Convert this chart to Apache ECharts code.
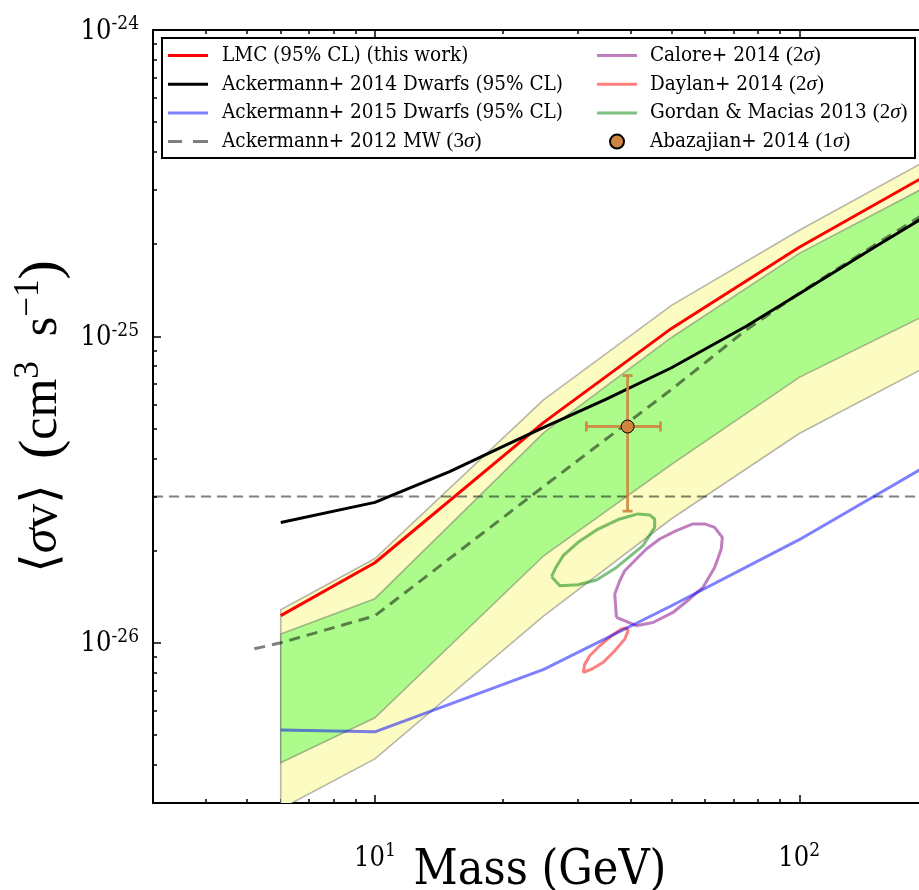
<!DOCTYPE html>
<html><head><meta charset="utf-8">
<script src="https://cdn.jsdelivr.net/npm/echarts@6/dist/echarts.min.js"></script>
<style>html,body{margin:0;padding:0;background:#fff}#c{width:919px;height:890px}</style>
</head><body><div id="c"></div>
<script>
// ---------------- data (mass in GeV, <sigma v> in cm^3 s^-1) ----------------
const bandMass    = [6, 10, 25, 50, 100, 200];
const lmcLimit    = [1.226e-26, 1.825e-26, 5.24e-26, 1.062e-25, 1.954e-25, 3.36e-25];
const band95Upper = [1.282e-26, 1.884e-26, 6.22e-26, 1.262e-25, 2.22e-25, 3.76e-25];
const band95Lower = [2.87e-27, 4.18e-27, 1.225e-26, 2.54e-26, 4.82e-26, 7.98e-26];
const band68Upper = [1.069e-26, 1.393e-26, 4.85e-26, 9.92e-26, 1.866e-25, 3.09e-25];
const band68Lower = [4.06e-27, 5.69e-27, 1.923e-26, 3.82e-26, 7.35e-26, 1.18e-25];

const dwarfs2014Mass  = [6, 10, 15, 20, 25, 35, 50, 75, 100, 150, 200];
const dwarfs2014Limit = [2.47e-26, 2.873e-26, 3.62e-26, 4.37e-26, 5.05e-26, 6.23e-26, 7.9e-26, 1.079e-25, 1.378e-25, 1.95e-25, 2.48e-25];

const dwarfs2015Mass  = [6, 10, 25, 50, 100, 200];
const dwarfs2015Limit = [5.19e-27, 5.12e-27, 8.19e-27, 1.321e-26, 2.17e-26, 3.79e-26];

const mw2012Mass  = [5.2, 6, 10, 25, 50, 75, 100, 150, 200];
const mw2012Limit = [9.56e-27, 1.0e-26, 1.225e-26, 3.24e-26, 6.71e-26, 1.05e-25, 1.384e-25, 1.98e-25, 2.54e-25];

const thermalMass = [3, 200];
const thermalRelic = 3e-26;

const caloreMass = [37.09, 41.32, 45.21, 50.40, 55.16, 59.29, 63.17, 65.51, 65.87, 63.17, 59.84, 56.16, 51.33, 46.89, 43.63, 41.32, 38.79, 37.76, 36.75, 36.94, 37.09];
const caloreSv   = [1.21e-26, 1.137e-26, 1.165e-26, 1.256e-26, 1.39e-26, 1.516e-26, 1.762e-26, 2.024e-26, 2.208e-26, 2.381e-26, 2.443e-26, 2.443e-26, 2.323e-26, 2.182e-26, 2.024e-26, 1.877e-26, 1.719e-26, 1.594e-26, 1.443e-26, 1.304e-26, 1.21e-26];

const daylanMass = [30.95, 32.39, 34.48, 36.75, 38.79, 39.50, 39.15, 38.10, 36.10, 33.88, 32.09, 31.23, 30.95];
const daylanSv   = [7.99e-27, 8.2e-27, 8.62e-27, 9.42e-27, 1.028e-26, 1.094e-26, 1.117e-26, 1.109e-26, 1.054e-26, 9.78e-27, 9.07e-27, 8.52e-27, 7.99e-27];

const gordanMass = [26.08, 27.28, 30.12, 33.28, 37.09, 42.83, 45.63, 45.63, 44.41, 41.69, 37.76, 33.28, 30.12, 27.77, 26.70, 26.08];
const gordanSv   = [1.643e-26, 1.536e-26, 1.547e-26, 1.603e-26, 1.762e-26, 2.075e-26, 2.381e-26, 2.536e-26, 2.614e-26, 2.634e-26, 2.536e-26, 2.335e-26, 2.127e-26, 1.924e-26, 1.762e-26, 1.643e-26];

const abazajianMass = [39.4], abazajianMassLo = [31.5], abazajianMassHi = [47.1];
const abazajianSv   = [5.08e-26], abazajianSvLo = [2.69e-26], abazajianSvHi = [7.45e-26];

// axis ticks
const xRange = [3, 200];
const yRange = [3e-27, 1e-24];
const xMajorExp = [1, 2];
const xMinorTicks = [4, 5, 6, 7, 8, 9, 20, 30, 40, 50, 60, 70, 80, 90];
const yMajorExp = [-26, -25, -24];
const yMinorTicks = [4e-27, 5e-27, 6e-27, 7e-27, 8e-27, 9e-27,
  2e-26, 3e-26, 4e-26, 5e-26, 6e-26, 7e-26, 8e-26, 9e-26,
  2e-25, 3e-25, 4e-25, 5e-25, 6e-25, 7e-25, 8e-25, 9e-25];

const N = {
  lmc: 'LMC (95% CL) (this work)',
  d14: 'Ackermann+ 2014 Dwarfs (95% CL)',
  d15: 'Ackermann+ 2015 Dwarfs (95% CL)',
  mw: 'Ackermann+ 2012 MW (3σ)',
  cal: 'Calore+ 2014 (2σ)',
  day: 'Daylan+ 2014 (2σ)',
  gor: 'Gordan & Macias 2013 (2σ)',
  aba: 'Abazajian+ 2014 (1σ)'
};

// ---------------- chart ----------------
const L = Math.log10;
const FONT = "'DejaVu Serif Condensed', 'DejaVu Serif', serif";
const MATH = "'Liberation Serif', 'DejaVu Serif', serif";
const pts = (xs, ys) => xs.map((x, i) => [L(x), L(ys[i])]);

const tickRich = {
  b: { fontFamily: FONT, fontSize: 27, color: '#000', lineHeight: 30, verticalAlign: 'bottom' },
  s: { fontFamily: FONT, fontSize: 19, color: '#000', lineHeight: 14, verticalAlign: 'top' }
};

function xAxisDef(pos, ticks, len, main) {
  return {
    type: 'value', position: pos, min: L(xRange[0]), max: L(xRange[1]),
    axisLine: { show: main, onZero: false, lineStyle: { color: '#000', width: 2 } },
    axisTick: { show: true, inside: true, length: len, customValues: ticks, lineStyle: { color: '#000', width: 1.5 } },
    axisLabel: (main && pos === 'bottom') ? {
      show: true, customValues: xMajorExp, margin: 39,
      formatter: v => '{b|10}{s|' + Math.round(v) + '}',
      rich: tickRich
    } : { show: false },
    splitLine: { show: false }
  };
}
function yAxisDef(pos, ticks, len, main) {
  return {
    type: 'value', position: pos, min: L(yRange[0]), max: L(yRange[1]),
    axisLine: { show: main, onZero: false, lineStyle: { color: '#000', width: 2 } },
    axisTick: { show: true, inside: true, length: len, customValues: ticks, lineStyle: { color: '#000', width: 1.5 } },
    axisLabel: (main && pos === 'left') ? {
      show: true, customValues: yMajorExp, margin: 14,
      formatter: v => '{b|10}{s|' + Math.round(v) + '}',
      rich: tickRich
    } : { show: false },
    splitLine: { show: false }
  };
}

const xAx = [
  xAxisDef('bottom', xMajorExp, 8, true),
  xAxisDef('bottom', xMinorTicks.map(L), 4, false),
  xAxisDef('top', xMajorExp, 8, true),
  xAxisDef('top', xMinorTicks.map(L), 4, false)
];
xAx[0].name = 'Mass (GeV)';
xAx[0].nameLocation = 'middle';
xAx[0].nameGap = 45;
xAx[0].nameMoveOverlap = false;
xAx[0].nameTextStyle = { fontFamily: FONT, fontSize: 48, color: '#000' };

const yAx = [
  yAxisDef('left', yMajorExp, 8, true),
  yAxisDef('left', yMinorTicks.map(L), 4, false),
  yAxisDef('right', yMajorExp, 8, true),
  yAxisDef('right', yMinorTicks.map(L), 4, false)
];
yAx[0].name = '{a|⟨}{i|σ}{r|v}{a|⟩}{r|  }{p|(}{r|cm}{sup|3}{r|  s}{sup|−1}{p|)}';
yAx[0].nameLocation = 'middle';
yAx[0].nameRotate = 90;
yAx[0].nameGap = 78;
yAx[0].nameMoveOverlap = false;
yAx[0].nameTextStyle = {
  color: '#000',
  rich: {
    a: { fontFamily: "'DejaVu Serif', serif", fontSize: 50, lineHeight: 64, color: '#000' },
    i: { fontFamily: MATH, fontSize: 50, fontStyle: 'italic', lineHeight: 64, color: '#000' },
    r: { fontFamily: MATH, fontSize: 50, lineHeight: 64, color: '#000' },
    p: { fontFamily: MATH, fontSize: 58, lineHeight: 64, color: '#000' },
    sup: { fontFamily: MATH, fontSize: 35, lineHeight: 34, verticalAlign: 'top', color: '#000' }
  }
};

function bandSeries(name, upper, lower, fill) {
  return {
    type: 'custom', name, xAxisIndex: 0, yAxisIndex: 0, clip: true, silent: true, z: 1,
    data: bandMass.map((m, i) => [L(m), L(lower[i]), L(upper[i])]),
    encode: { x: 0, y: [1, 2] },
    renderItem(params, api) {
      if (params.dataIndex !== 0) return null;
      const top = [], bot = [];
      for (let i = 0; i < bandMass.length; i++) {
        top.push(api.coord([L(bandMass[i]), L(upper[i])]));
        bot.push(api.coord([L(bandMass[i]), L(lower[i])]));
      }
      return { type: 'polygon', shape: { points: top.concat(bot.reverse()) },
        style: { fill, stroke: 'rgba(80,80,80,0.4)', lineWidth: 1.6 } };
    }
  };
}

function lineSeries(name, xs, ys, color, width, dash, z) {
  return {
    type: 'line', name, xAxisIndex: 0, yAxisIndex: 0, data: pts(xs, ys),
    color, showSymbol: false, symbol: 'none', smooth: false, z: z || 3, silent: true,
    lineStyle: { color, width, type: dash || 'solid', cap: 'butt', join: 'round' },
    clip: true
  };
}

const series = [
  bandSeries('band95', band95Upper, band95Lower, '#fbfbc2'),
  bandSeries('band68', band68Upper, band68Lower, '#adfc8b'),
  lineSeries('thermal', thermalMass, [thermalRelic, thermalRelic], 'rgba(0,0,0,0.5)', 2, [10, 6], 2),
  lineSeries(N.mw, mw2012Mass, mw2012Limit, 'rgba(0,0,0,0.5)', 3, [11, 7], 3),
  lineSeries(N.gor, gordanMass, gordanSv, 'rgba(0,128,0,0.5)', 3),
  lineSeries(N.cal, caloreMass, caloreSv, 'rgba(128,0,128,0.5)', 3),
  lineSeries(N.day, daylanMass, daylanSv, 'rgba(255,0,0,0.5)', 3),
  lineSeries(N.d15, dwarfs2015Mass, dwarfs2015Limit, 'rgba(0,0,255,0.5)', 3),
  lineSeries(N.lmc, bandMass, lmcLimit, '#ff0000', 3, null, 4),
  lineSeries(N.d14, dwarfs2014Mass, dwarfs2014Limit, '#000000', 3, null, 4),
  {
    type: 'custom', name: 'abazajianErr', xAxisIndex: 0, yAxisIndex: 0, z: 5, silent: true,
    data: abazajianMass.map((m, i) => [L(m), L(abazajianSv[i]), L(abazajianMassLo[i]), L(abazajianMassHi[i]), L(abazajianSvLo[i]), L(abazajianSvHi[i])]),
    encode: { x: [0, 2, 3], y: [1, 4, 5] },
    renderItem(params, api) {
      const c = api.coord([api.value(0), api.value(1)]);
      const xl = api.coord([api.value(2), api.value(1)]);
      const xh = api.coord([api.value(3), api.value(1)]);
      const yl = api.coord([api.value(0), api.value(4)]);
      const yh = api.coord([api.value(0), api.value(5)]);
      const st = { stroke: 'rgba(205,133,63,0.9)', lineWidth: 2.8, fill: null };
      const cap = 5;
      return { type: 'group', children: [
        { type: 'line', shape: { x1: xl[0], y1: c[1], x2: xh[0], y2: c[1] }, style: st },
        { type: 'line', shape: { x1: c[0], y1: yl[1], x2: c[0], y2: yh[1] }, style: st },
        { type: 'line', shape: { x1: xl[0], y1: c[1] - cap, x2: xl[0], y2: c[1] + cap }, style: st },
        { type: 'line', shape: { x1: xh[0], y1: c[1] - cap, x2: xh[0], y2: c[1] + cap }, style: st },
        { type: 'line', shape: { x1: c[0] - cap, y1: yl[1], x2: c[0] + cap, y2: yl[1] }, style: st },
        { type: 'line', shape: { x1: c[0] - cap, y1: yh[1], x2: c[0] + cap, y2: yh[1] }, style: st }
      ] };
    }
  },
  {
    type: 'scatter', name: N.aba, xAxisIndex: 0, yAxisIndex: 0, z: 6, silent: true,
    data: pts(abazajianMass, abazajianSv), symbol: 'circle', symbolSize: 13,
    color: '#cd853f',
    itemStyle: { color: '#cd853f', borderColor: '#000', borderWidth: 1, opacity: 1 }
  }
];

const SOLID = 'path://M0,0h40v3h-40z';
const DASH = 'path://M0,0h14v3h-14zM25,0h15v3h-15z';
const legendRich = {
  m: { fontFamily: MATH, fontSize: 21, lineHeight: 20, color: '#000' },
  mi: { fontFamily: MATH, fontSize: 21, fontStyle: 'italic', lineHeight: 20, color: '#000' }
};
const legendFmt = name => name.replace(/\((\d)σ\)/, (s, d) => '{m|(' + d + '}{mi|σ}{m|)}');
function legendDef(items, left, pad) {
  return {
    data: items, left, top: 45, orient: 'vertical', itemGap: 7.7, itemWidth: 40, itemHeight: 14,
    padding: 0, z: 20, selectedMode: false, formatter: legendFmt,
    textStyle: { fontFamily: FONT, fontSize: 20.5, lineHeight: 20, color: '#000', padding: [0, 0, 0, pad], rich: legendRich }
  };
}

const option = {
  animation: false,
  backgroundColor: '#fff',
  grid: { left: 153, top: 30, width: 774, height: 773, containLabel: false, outerBoundsMode: 'none' },
  xAxis: xAx,
  yAxis: yAx,
  legend: [
    legendDef([
      { name: N.lmc, icon: SOLID }, { name: N.d14, icon: SOLID },
      { name: N.d15, icon: SOLID }, { name: N.mw, icon: DASH }
    ], 168, 9),
    legendDef([
      { name: N.cal, icon: SOLID }, { name: N.day, icon: SOLID },
      { name: N.gor, icon: SOLID }, { name: N.aba, icon: 'circle' }
    ], 597, 8)
  ],
  graphic: { elements: [
    { type: 'rect', z: 10, shape: { x: 162, y: 38, width: 753, height: 120 },
      style: { fill: '#fff', stroke: '#000', lineWidth: 2 } }
  ] },
  series
};

const chart = echarts.init(document.getElementById('c'), null, { renderer: 'canvas' });
chart.setOption(option);
</script>
</body></html>
